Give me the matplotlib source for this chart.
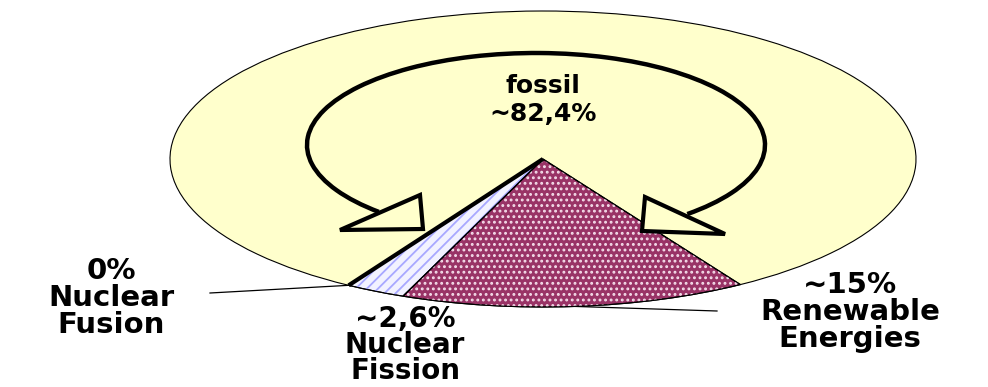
import numpy as np
import matplotlib.pyplot as plt
from matplotlib.patches import Arc, Polygon, Wedge

# shares of primary energy, counter-clockwise from the fusion edge
names = ['Nuclear\nFusion', 'Nuclear\nFission', 'Renewable\nEnergies', 'fossil']
shares = [0.0, 2.6, 15.0, 82.4]
approx = ['', '~', '~', '~']

fossil_col = '#FFFFCC'
renew_col = '#993366'
fission_col = '#F2F2FF'
start = -121.4

plt.rcParams['hatch.linewidth'] = 1.3

# pixel -> data helper (pie centre at 543,159, radii 373 x 148 px)
def px(x, y):
    return ((x - 543) / 373.0, (159 - y) / 148.0)

fig = plt.figure(figsize=(9.88, 3.87), dpi=100)
ax = fig.add_axes([0, 0, 1, 1])

wedges, _ = ax.pie(shares, startangle=start, counterclock=True,
                   colors=['black', fission_col, renew_col, fossil_col],
                   wedgeprops=dict(edgecolor='black', linewidth=0.8))
ax.set_aspect('auto')
ax.set_xlim(px(0, 0)[0], px(988, 0)[0])
ax.set_ylim(px(0, 387)[1], px(0, 0)[1])
ax.axis('off')

# fusion: zero-width wedge drawn as a thick line
wedges[0].set_linewidth(3)
wedges[0].set_zorder(5)

# patterns as overlays in their own colour
for w, pat, hc in [(wedges[1], '///', '#A8A8FF'), (wedges[2], '...', '#F4DDEA')]:
    ov = Wedge(w.center, w.r, w.theta1, w.theta2, fill=False, hatch=pat,
               edgecolor=hc, lw=0, zorder=1.5)
    ax.add_patch(ov)
    outline = Wedge(w.center, w.r, w.theta1, w.theta2, fill=False,
                    edgecolor='black', lw=0.8, zorder=1.6)
    ax.add_patch(outline)

# curved arrow around the fossil label
cx, cy = px(536, 145)
ax.add_patch(Arc((cx, cy), 2 * 229 / 373.0, 2 * 92 / 148.0, theta1=-49, theta2=227,
                 color='black', lw=3.2, zorder=3))
left_head = [px(340, 230), px(420, 195), px(423, 229)]
right_head = [px(645, 197), px(642, 231), px(725, 234)]
for head in (left_head, right_head):
    ax.add_patch(Polygon(head, closed=True, facecolor=fossil_col, edgecolor='black',
                         lw=3, joinstyle='miter', zorder=4))

def pct(v, a):
    return a + ('%g' % v).replace('.', ',') + '%'

font = dict(family='DejaVu Sans', weight='bold', ha='center', va='center')

# fossil label
ax.text(*px(543, 100), 'fossil\n' + pct(shares[3], approx[3]), fontsize=18,
        linespacing=1.2, **font)

# fusion label + leader
ax.text(*px(111, 298), pct(shares[0], approx[0]) + '\n' + names[0], fontsize=21,
        linespacing=0.95, **font)
a0 = np.deg2rad(start)
ax.plot([px(210, 293)[0], np.cos(a0)], [px(210, 293)[1], np.sin(a0)], color='black', lw=0.9)

# fission label
ax.text(*px(405, 345), pct(shares[1], approx[1]) + '\n' + names[1], fontsize=20,
        linespacing=0.92, **font)

# renewable label + leader
ax.text(*px(850, 312), pct(shares[2], approx[2]) + '\n' + names[2], fontsize=21,
        linespacing=0.95, **font)
a2 = np.deg2rad(start + (shares[0] + shares[1] + shares[2] / 2) * 3.6)
ax.plot([np.cos(a2), px(717, 311)[0]], [np.sin(a2), px(717, 311)[1]], color='black', lw=0.9)

fig.savefig('out.png', dpi=100)
